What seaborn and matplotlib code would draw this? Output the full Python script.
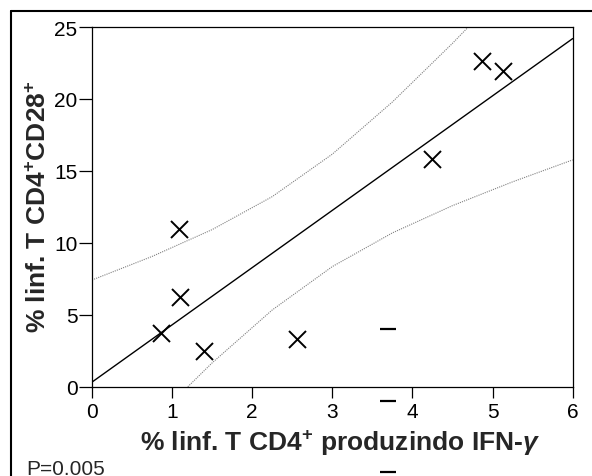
import numpy as np
import pandas as pd
import matplotlib
matplotlib.use("Agg")
import matplotlib.pyplot as plt
from matplotlib.lines import Line2D
import seaborn as sns

# Per-patient percentages
ifng_pct = [0.86, 1.10, 1.09, 1.40, 2.56, 4.25, 4.87, 5.13]
cd28_pct = [3.75, 6.25, 10.96, 2.46, 3.31, 15.85, 22.62, 21.96]

x_ticks = [0, 1, 2, 3, 4, 5, 6]
y_ticks = [0, 5, 10, 15, 20, 25]

# Short dash glyphs left on the page
dash_x = [3.69, 3.69, 3.69]
dash_y = [4.0, -0.97, -5.95]

p_label = "P=0.005"
x_label = r"% linf. T CD4$^{\mathbf{+}}$ produzindo IFN-$\mathit{\gamma}$"
y_label = r"% linf. T CD4$^{\mathbf{+}}$CD28$^{\mathbf{+}}$"

T_975_DF = 2.447  # two-sided 95% t quantile, 6 degrees of freedom

sns.set_theme(style="ticks")
plt.rcParams["font.family"] = ["Liberation Sans", "DejaVu Sans"]
plt.rcParams["mathtext.fontset"] = "custom"
plt.rcParams["mathtext.rm"] = "Liberation Sans"
plt.rcParams["mathtext.bf"] = "Liberation Sans:bold"
plt.rcParams["mathtext.it"] = "Liberation Sans:italic:bold"

df = pd.DataFrame({"ifng": ifng_pct, "cd28": cd28_pct})

# Least-squares fit with 95% confidence band for the mean
x = np.asarray(ifng_pct)
y = np.asarray(cd28_pct)
n = len(x)
slope, intercept = np.polyfit(x, y, 1)
resid = y - (slope * x + intercept)
s = np.sqrt(np.sum(resid ** 2) / (n - 2))
sxx = np.sum((x - x.mean()) ** 2)
grid = np.linspace(x_ticks[0], x_ticks[-1], 9)
fit = slope * grid + intercept
half = T_975_DF * s * np.sqrt(1.0 / n + (grid - x.mean()) ** 2 / sxx)
band = pd.DataFrame({"x": grid, "fit": fit, "lo": fit - half, "hi": fit + half})

W, H = 592, 477
fig = plt.figure(figsize=(W / 100, H / 100), dpi=100)
ax = fig.add_axes([92 / W, 1 - 387.7 / H, (572.7 - 92) / W, (387.7 - 28) / H])

sns.lineplot(data=band, x="x", y="hi", ax=ax, color="#808080", lw=0.8,
             linestyle=(0, (1, 1)))
sns.lineplot(data=band, x="x", y="lo", ax=ax, color="#808080", lw=0.8,
             linestyle=(0, (1, 1)))
sns.lineplot(data=band, x="x", y="fit", ax=ax, color="black", lw=1.0)
sns.scatterplot(data=df, x="ifng", y="cd28", ax=ax, marker="x", s=150,
                color="black", linewidth=1.4, zorder=5)
ax.plot(dash_x, dash_y, linestyle="none", marker="_", markersize=11,
        markeredgewidth=1.6, color="black", clip_on=False)

ax.set_xlim(x_ticks[0], x_ticks[-1])
ax.set_ylim(y_ticks[0], y_ticks[-1])
ax.set_xticks(x_ticks)
ax.set_yticks(y_ticks)
ax.set_xlabel("")
ax.set_ylabel("")
ax.tick_params(axis="both", direction="out", width=0.9, labelsize=15,
               colors="black", bottom=True, left=True)
ax.tick_params(axis="x", length=8, pad=3)
ax.tick_params(axis="y", length=9.5, pad=1)
for sp in ax.spines.values():
    sp.set_visible(True)
    sp.set_color("black")
    sp.set_linewidth(0.9)

fig.text(340.5 / W, 1 - 451 / H, x_label, fontsize=19, fontweight="bold",
         ha="center", va="baseline")
fig.text(46 / W, 1 - 207 / H, y_label, fontsize=19, fontweight="bold",
         rotation=90, rotation_mode="anchor", ha="center", va="baseline")
fig.text(26 / W, 1 - 475.5 / H, p_label, fontsize=15, ha="left",
         va="baseline")

# Page frame: top and left rules
fig.add_artist(Line2D([11 / W, 1.0], [1 - 12 / H, 1 - 12 / H],
                      transform=fig.transFigure, color="black", lw=1.5))
fig.add_artist(Line2D([11 / W, 11 / W], [0.0, 1 - 12 / H],
                      transform=fig.transFigure, color="black", lw=1.5))

fig.savefig("out.png", dpi=100)
